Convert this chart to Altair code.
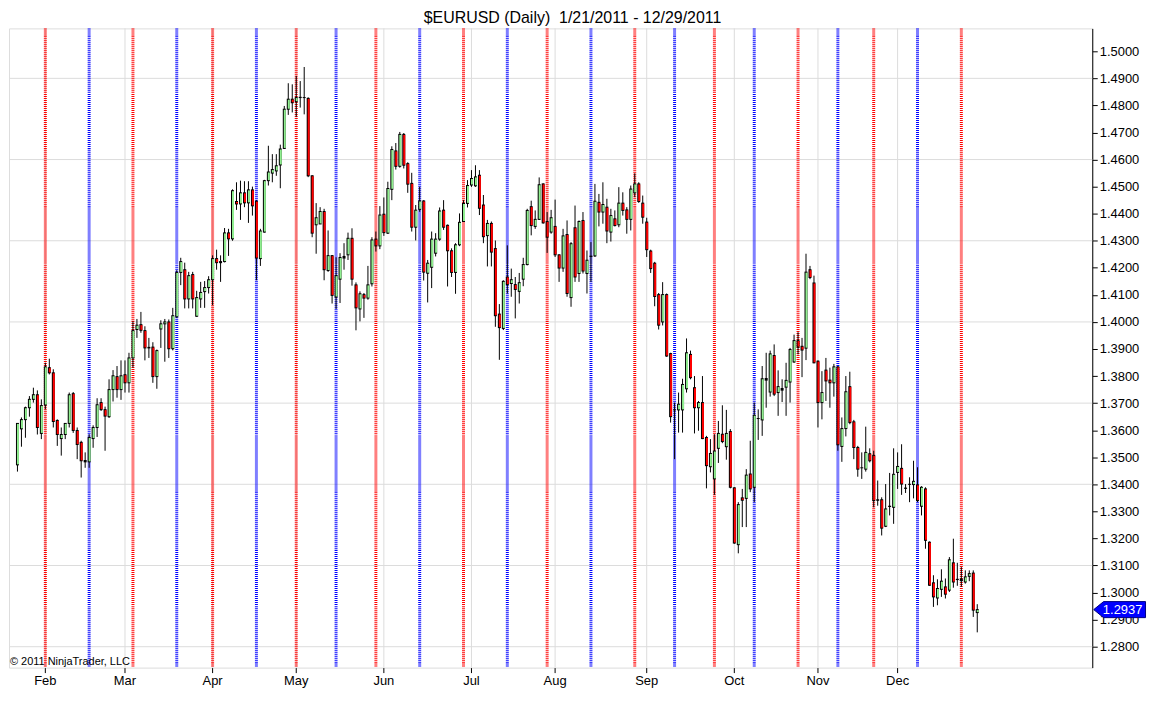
import altair as alt
import pandas as pd

# ---- daily OHLC ----
opens = [
1.3472,1.3605,1.3639,1.3683,1.3714,1.3731,1.3588,1.3693,1.3831,1.3812,
1.3636,1.3569,1.3584,1.3625,1.3735,1.3599,1.3555,1.3488,1.3483,1.3569,
1.3610,1.3702,1.3676,1.3650,1.3750,1.3798,1.3750,1.3805,1.3775,1.3867,
1.3972,1.3990,1.3968,1.3904,1.3907,1.3798,1.3974,1.3993,1.4000,1.3901,
1.4019,1.4183,1.4193,1.4085,1.4175,1.4021,1.4085,1.4112,1.4127,1.4156,
1.4234,1.4223,1.4223,1.4329,1.4307,1.4445,1.4436,1.4477,1.4440,1.4488,
1.4446,1.4234,1.4332,1.4522,1.4550,1.4558,1.4580,1.4641,1.4786,1.4823,
1.4814,1.4829,1.4829,1.4826,1.4540,1.4359,1.4362,1.4408,1.4190,1.4245,
1.4092,1.4158,1.4236,1.4248,1.4309,1.4137,1.4048,1.4101,1.4088,1.4141,
1.4306,1.4281,1.4398,1.4328,1.4490,1.4632,1.4575,1.4693,1.4585,1.4512,
1.4350,1.4416,1.4447,1.4180,1.4202,1.4254,1.4306,1.4413,1.4357,1.4263,
1.4183,1.4285,1.4371,1.4438,1.4506,1.4503,1.4542,1.4432,1.4319,1.4364,
1.4271,1.4029,1.3976,1.4166,1.4142,1.4138,1.4113,1.4158,1.4212,1.4426,
1.4353,1.4379,1.4510,1.4371,1.4332,1.4353,1.4248,1.4199,1.4323,1.4090,
1.4348,1.4179,1.4375,1.4179,1.4242,1.4244,1.4442,1.4406,1.4424,1.4332,
1.4381,1.4359,1.4439,1.4414,1.4379,1.4477,1.4510,1.4439,1.4369,1.4262,
1.4217,1.4101,1.4000,1.4101,1.3883,1.3675,1.3675,1.3675,1.3753,1.3880,
1.3757,1.3683,1.3702,1.3573,1.3465,1.3420,1.3533,1.3585,1.3539,1.3595,
1.3387,1.3177,1.3350,1.3348,1.3438,1.3389,1.3643,1.3638,1.3785,1.3741,
1.3876,1.3739,1.3754,1.3759,1.3778,1.3852,1.3931,1.3910,1.3903,1.4193,
1.4144,1.3855,1.3702,1.3822,1.3785,1.3775,1.3834,1.3540,1.3606,1.3761,
1.3631,1.3536,1.3461,1.3456,1.3513,1.3507,1.3343,1.3343,1.3245,1.3318,
1.3315,1.3444,1.3459,1.3385,1.3400,1.3399,1.3398,1.3319,1.3383,1.3186,
1.3036,1.2980,1.3012,1.3021,1.3009,1.3110,1.3049,1.3050,1.3039,1.3060,
1.3072,1.2926]
highs = [
1.3625,1.3647,1.3687,1.3726,1.3757,1.3747,1.3714,1.3849,1.3864,1.3825,
1.3640,1.3610,1.3625,1.3739,1.3741,1.3610,1.3561,1.3518,1.3585,1.3618,
1.3718,1.3718,1.3687,1.3788,1.3822,1.3837,1.3858,1.3858,1.3886,1.4002,
1.4011,1.4037,1.3984,1.3941,1.3925,1.3898,1.4006,1.4011,1.4009,1.4052,
1.4191,1.4237,1.4219,1.4185,1.4185,1.4115,1.4148,1.4151,1.4169,1.4246,
1.4267,1.4246,1.4347,1.4344,1.4490,1.4516,1.4522,1.4520,1.4520,1.4500,
1.4450,1.4344,1.4525,1.4651,1.4620,1.4620,1.4655,1.4798,1.4882,1.4878,
1.4909,1.4890,1.4942,1.4830,1.4542,1.4439,1.4424,1.4418,1.4338,1.4247,
1.4239,1.4254,1.4291,1.4330,1.4346,1.4146,1.4113,1.4107,1.4207,1.4313,
1.4334,1.4428,1.4460,1.4518,1.4649,1.4661,1.4702,1.4698,1.4590,1.4551,
1.4432,1.4499,1.4450,1.4229,1.4334,1.4328,1.4423,1.4450,1.4360,1.4272,
1.4291,1.4401,1.4450,1.4524,1.4561,1.4579,1.4561,1.4469,1.4377,1.4371,
1.4301,1.4066,1.4154,1.4283,1.4197,1.4166,1.4181,1.4237,1.4418,1.4448,
1.4412,1.4534,1.4512,1.4406,1.4414,1.4452,1.4250,1.4344,1.4375,1.4295,
1.4430,1.4375,1.4406,1.4264,1.4295,1.4510,1.4473,1.4516,1.4455,1.4418,
1.4412,1.4498,1.4479,1.4424,1.4504,1.4549,1.4516,1.4467,1.4385,1.4267,
1.4222,1.4107,1.4147,1.4105,1.3886,1.3702,1.3739,1.3790,1.3939,1.3894,
1.3800,1.3708,1.3800,1.3579,1.3567,1.3585,1.3634,1.3692,1.3675,1.3604,
1.3389,1.3334,1.3383,1.3456,1.3561,1.3702,1.3677,1.3837,1.3886,1.3894,
1.3917,1.3821,1.3788,1.3849,1.3904,1.3953,1.3962,1.3941,1.4252,1.4207,
1.4171,1.3858,1.3818,1.3867,1.3831,1.3845,1.3837,1.3647,1.3800,1.3816,
1.3638,1.3542,1.3518,1.3613,1.3533,1.3524,1.3414,1.3352,1.3401,1.3442,
1.3533,1.3518,1.3548,1.3401,1.3426,1.3487,1.3463,1.3393,1.3389,1.3189,
1.3064,1.3049,1.3086,1.3052,1.3131,1.3199,1.3110,1.3094,1.3082,1.3082,
1.3082,1.2957]
lows = [
1.3447,1.3539,1.3572,1.3650,1.3702,1.3584,1.3567,1.3677,1.3806,1.3610,
1.3542,1.3506,1.3567,1.3610,1.3590,1.3493,1.3425,1.3461,1.3461,1.3535,
1.3575,1.3671,1.3524,1.3645,1.3706,1.3720,1.3712,1.3739,1.3739,1.3831,
1.3941,1.3960,1.3858,1.3867,1.3775,1.3753,1.3904,1.3853,1.3867,1.3895,
1.4015,1.4136,1.4050,1.4050,1.4050,1.4019,1.4052,1.4052,1.4105,1.4062,
1.4193,1.4148,1.4220,1.4244,1.4300,1.4414,1.4377,1.4424,1.4366,1.4393,
1.4154,1.4207,1.4330,1.4504,1.4516,1.4540,1.4494,1.4640,1.4765,1.4774,
1.4758,1.4792,1.4767,1.4535,1.4313,1.4252,1.4362,1.4154,1.4185,1.4068,
1.4048,1.4070,1.4193,1.4229,1.4134,1.3969,1.4002,1.4015,1.4082,1.4131,
1.4260,1.4269,1.4318,1.4325,1.4450,1.4563,1.4570,1.4567,1.4477,1.4334,
1.4301,1.4407,1.4153,1.4072,1.4125,1.4242,1.4300,1.4340,1.4131,1.4166,
1.4104,1.4280,1.4370,1.4423,1.4499,1.4499,1.4395,1.4291,1.4205,1.4205,
1.3982,1.3860,1.3970,1.4105,1.4093,1.4013,1.4068,1.4132,1.4209,1.4320,
1.4344,1.4377,1.4363,1.4255,1.4326,1.4240,1.4148,1.4185,1.4093,1.4056,
1.4148,1.4148,1.4179,1.4105,1.4148,1.4240,1.4353,1.4363,1.4291,1.4297,
1.4353,1.4350,1.4393,1.4326,1.4338,1.4461,1.4440,1.4363,1.4240,1.4181,
1.4058,1.3972,1.3987,1.3871,1.3628,1.3493,1.3591,1.3591,1.3739,1.3788,
1.3588,1.3598,1.3567,1.3385,1.3444,1.3361,1.3479,1.3552,1.3491,1.3385,
1.3180,1.3145,1.3242,1.3242,1.3371,1.3334,1.3564,1.3579,1.3683,1.3724,
1.3726,1.3653,1.3704,1.3653,1.3702,1.3849,1.3880,1.3796,1.3859,1.4158,
1.3847,1.3610,1.3640,1.3708,1.3683,1.3724,1.3524,1.3483,1.3577,1.3622,
1.3493,1.3428,1.3420,1.3447,1.3481,1.3315,1.3321,1.3211,1.3242,1.3285,
1.3254,1.3383,1.3361,1.3368,1.3334,1.3348,1.3334,1.3285,1.3162,1.3025,
1.2947,1.2953,1.2984,1.2978,1.3002,1.3018,1.3025,1.3021,1.3033,1.3042,
1.2910,1.2853]
closes = [
1.3625,1.3639,1.3683,1.3714,1.3731,1.3610,1.3691,1.3834,1.3812,1.3632,
1.3584,1.3584,1.3625,1.3731,1.3599,1.3547,1.3487,1.3483,1.3573,1.3610,
1.3694,1.3676,1.3652,1.3750,1.3801,1.3750,1.3801,1.3775,1.3867,1.3968,
1.3988,1.3969,1.3904,1.3906,1.3798,1.3894,1.3993,1.4000,1.3901,1.4023,
1.4183,1.4223,1.4085,1.4171,1.4085,1.4090,1.4109,1.4127,1.4156,1.4234,
1.4219,1.4219,1.4329,1.4307,1.4485,1.4436,1.4477,1.4440,1.4488,1.4429,
1.4236,1.4336,1.4522,1.4554,1.4563,1.4577,1.4639,1.4786,1.4823,1.4810,
1.4829,1.4830,1.4829,1.4540,1.4328,1.4385,1.4408,1.4193,1.4245,1.4098,
1.4171,1.4238,1.4242,1.4309,1.4158,1.4052,1.4104,1.4088,1.4137,1.4303,
1.4281,1.4395,1.4330,1.4493,1.4637,1.4575,1.4693,1.4579,1.4509,1.4350,
1.4413,1.4447,1.4184,1.4217,1.4306,1.4306,1.4410,1.4350,1.4263,1.4183,
1.4285,1.4368,1.4438,1.4504,1.4530,1.4536,1.4420,1.4315,1.4364,1.4258,
1.4023,1.3979,1.4150,1.4138,1.4156,1.4120,1.4145,1.4212,1.4412,1.4356,
1.4379,1.4507,1.4366,1.4313,1.4385,1.4248,1.4199,1.4318,1.4105,1.4289,
1.4166,1.4371,1.4188,1.4228,1.4243,1.4446,1.4406,1.4434,1.4336,1.4393,
1.4356,1.4439,1.4412,1.4379,1.4491,1.4510,1.4445,1.4387,1.4267,1.4197,
1.4094,1.3988,1.4101,1.3874,1.3650,1.3675,1.3696,1.3769,1.3886,1.3794,
1.3683,1.3702,1.3569,1.3469,1.3514,1.3523,1.3588,1.3558,1.3588,1.3389,
1.3183,1.3325,1.3341,1.3434,1.3383,1.3655,1.3643,1.3790,1.3791,1.3882,
1.3733,1.3761,1.3748,1.3784,1.3898,1.3931,1.3907,1.3896,1.4184,1.4164,
1.3849,1.3702,1.3739,1.3782,1.3775,1.3834,1.3546,1.3606,1.3742,1.3628,
1.3536,1.3456,1.3461,1.3518,1.3487,1.3340,1.3341,1.3238,1.3309,1.3319,
1.3437,1.3466,1.3401,1.3386,1.3400,1.3411,1.3340,1.3389,1.3193,1.3027,
1.2984,1.3015,1.3042,1.2994,1.3121,1.3039,1.3048,1.3044,1.3058,1.3070,
1.2935,1.2937]

# ---- axis / annotation values ----
month_idx = [7, 27, 49, 70, 92, 114, 135, 158, 180, 201, 221]
month_names = ["Feb", "Mar", "Apr", "May", "Jun", "Jul", "Aug", "Sep", "Oct", "Nov", "Dec"]
red_idx = [7, 29, 49, 70, 90, 112, 133, 155, 175, 196, 215, 237]
blue_idx = [18, 40, 60, 80, 101, 123, 144, 165, 185, 206, 226]
grid_prices = [1.28, 1.31, 1.34, 1.37, 1.40, 1.43, 1.46, 1.49]
tick_prices = [1.28, 1.29, 1.30, 1.31, 1.32, 1.33, 1.34, 1.35, 1.36, 1.37, 1.38,
               1.39, 1.40, 1.41, 1.42, 1.43, 1.44, 1.45, 1.46, 1.47, 1.48, 1.49, 1.50]
last_price = [1.2937]
copyright_text = ["\u00a9 2011 NinjaTrader, LLC"]

W, H = 1088, 642
FONT = "Liberation Sans"

df = pd.DataFrame({"i": list(range(len(opens))), "open": opens, "high": highs,
                   "low": lows, "close": closes})
df["dir"] = ["up" if c >= o else "down" for o, c in zip(opens, closes)]

xs = alt.Scale(domain=[-2.0, 270.0], nice=False, zero=False, padding=0)
ys = alt.Scale(domain=[1.27227, 1.50846], nice=False, zero=False, padding=0)

names_js = "[" + ",".join("'%s'" % m for m in month_names) + "]"
idx_js = "[" + ",".join(str(v) for v in month_idx) + "]"
xaxis = alt.Axis(values=month_idx, labelExpr=f"{names_js}[indexof({idx_js}, datum.value)]",
                 title=None, grid=False, domain=False, tickSize=5, tickColor="black",
                 labelFont=FONT, labelFontSize=13, labelColor="black", labelPadding=2,
                 labelFlush=False, labelOverlap=False)
yaxis = alt.Axis(orient="right", values=tick_prices, format=".4f", title=None, grid=False,
                 domain=True, domainColor="black", tickSize=5, tickColor="black",
                 labelFont=FONT, labelFontSize=13, labelColor="black", labelPadding=2,
                 labelOverlap=False, labelFlush=False)


def X(f):
    return alt.X(f, scale=xs, axis=xaxis)


def Y(f):
    return alt.Y(f, scale=ys, axis=yaxis)


hgrid = alt.Chart(pd.DataFrame({"p": grid_prices})).mark_rule(
    color="#dcdcdc", strokeWidth=1).encode(y=Y("p:Q"))
vgrid = alt.Chart(pd.DataFrame({"i": month_idx})).mark_rule(
    color="#dcdcdc", strokeWidth=1, xOffset=0.5).encode(x=X("i:Q"))
red_lines = alt.Chart(pd.DataFrame({"i": red_idx})).mark_rule(
    color="#ff0000", strokeWidth=3, strokeDash=[1, 1], xOffset=0.5).encode(x=X("i:Q"))
blue_lines = alt.Chart(pd.DataFrame({"i": blue_idx})).mark_rule(
    color="#0000ff", strokeWidth=3, strokeDash=[1, 1], xOffset=0.5).encode(x=X("i:Q"))

candles = alt.Chart(df).transform_calculate(
    top="max(datum.open, datum.close)", bot="min(datum.open, datum.close)",
    span="abs(datum.open - datum.close)")

wicks = candles.mark_rule(color="black", strokeWidth=1, xOffset=0.5).encode(
    x=X("i:Q"), y=Y("low:Q"), y2="high:Q")
# black outline of each body (3 px wide, at least 1 px tall)
body_outline = candles.mark_bar(size=3, color="black", xOffset=0.5,
                                yOffset=-0.5, y2Offset=0.5).encode(
    x=X("i:Q"), y=Y("top:Q"), y2="bot:Q")
# coloured inside of the body
body_fill = candles.transform_filter("datum.span > 0.0006").mark_bar(
    size=2, xOffset=1.0, yOffset=0.5, y2Offset=-0.5).encode(
    x=X("i:Q"), y=Y("top:Q"), y2="bot:Q",
    fill=alt.Fill("dir:N", scale=alt.Scale(domain=["up", "down"], range=["#90EE90", "#FF0000"]),
                  legend=None))

copyright_mark = alt.Chart(pd.DataFrame({"t": copyright_text})).mark_text(
    align="left", baseline="middle", font=FONT, fontSize=11, color="black").encode(
    x=alt.value(1), y=alt.value(H - 6), text="t:N")

arrow_path = "M -1 0 L -0.62 -0.31 L 1 -0.31 L 1 0.31 L -0.62 0.31 Z"
lp = pd.DataFrame({"p": last_price})
price_box = alt.Chart(lp).mark_point(
    shape=arrow_path, size=2704, filled=True, fill="#0000ff", stroke="#000080",
    strokeWidth=1, opacity=1).encode(x=alt.value(W + 27.5), y=Y("p:Q"))
price_text = alt.Chart(lp).mark_text(
    color="white", font=FONT, fontSize=13, align="center", baseline="middle").encode(
    x=alt.value(W + 30.5), y=Y("p:Q"), text=alt.Text("p:Q", format=".4f"))

chart = alt.layer(
    hgrid, vgrid, red_lines, blue_lines, wicks, body_outline, body_fill,
    copyright_mark, price_box, price_text
).properties(
    width=W, height=H,
    padding={"left": 0, "top": 0, "right": 2, "bottom": 2},
    title=alt.TitleParams(text="$EURUSD (Daily)\u00a0 1/21/2011 - 12/29/2011",
                          font=FONT, fontSize=16, fontWeight="normal", color="black",
                          anchor="middle", dx=22, offset=1),
).configure_view(stroke="black", strokeWidth=1).configure(background="white")

chart.save("out.html", embed_options={"renderer": "svg", "actions": False})
